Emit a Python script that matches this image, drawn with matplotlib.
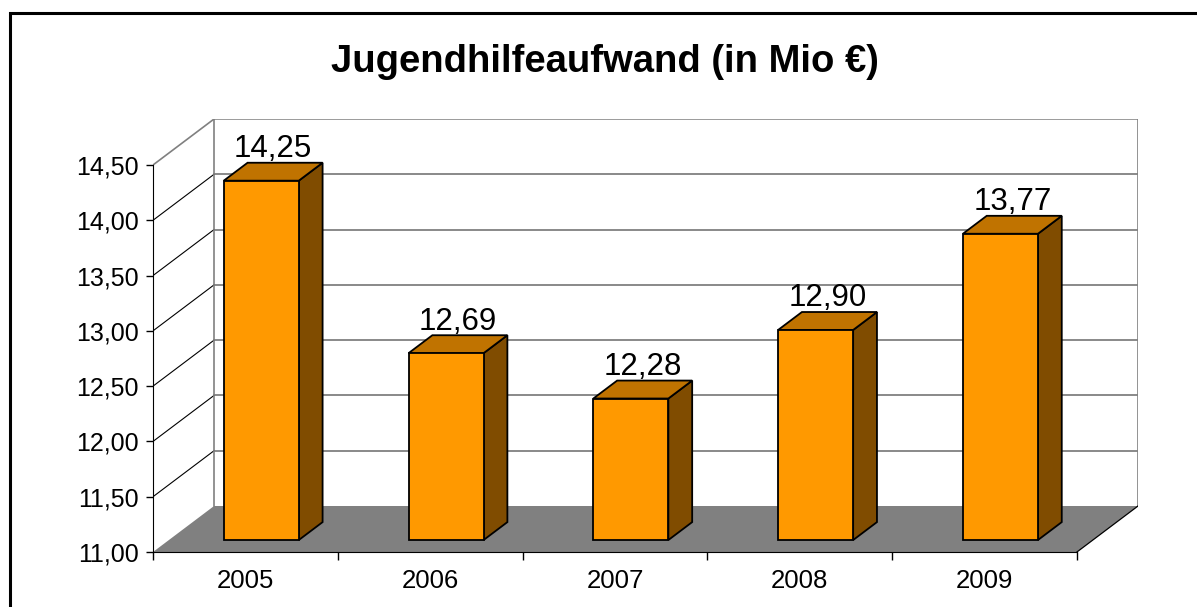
import matplotlib
matplotlib.use("Agg")
import matplotlib.pyplot as plt
from matplotlib.patches import Polygon, Rectangle
import numpy as np

plt.rcParams['font.family'] = ['Liberation Sans', 'DejaVu Sans']

# ---- data ----
years = ["2005", "2006", "2007", "2008", "2009"]
values = [14.25, 12.69, 12.28, 12.90, 13.77]
yticks = [11.0, 11.5, 12.0, 12.5, 13.0, 13.5, 14.0, 14.5]
title = "Jugendhilfeaufwand (in Mio €)"

# ---- 3D-look geometry (in data units) ----
YMIN, YMAX = 11.0, 14.5
DX, DY = 0.3304, 0.416        # depth offset of back wall
F0, F1 = 0.26, 0.65           # bar front / back depth fractions
HW = 0.203                    # half bar width

C_FRONT, C_TOP, C_SIDE = '#FF9900', '#C07300', '#804C00'
C_FLOOR, C_WALL = '#808080', '#808080'

fig = plt.figure(figsize=(11.97, 6.07), dpi=100)
ax = fig.add_axes([153/1197, 55/607, 985/1197, 433/607])
n = len(years)
ax.set_xlim(0, n + DX)
ax.set_ylim(YMIN, YMAX + DY)

# back wall gridlines and side-wall diagonals
for t in yticks:
    if t > YMIN:
        ax.plot([DX, n + DX], [t + DY, t + DY], color='#6a6a6a' if t < YMAX else C_WALL,
                lw=1.1, zorder=1)
        ax.plot([0, DX], [t, t + DY], color='black' if t < YMAX else C_WALL,
                lw=0.8 if t < YMAX else 1.2, zorder=1)
ax.plot([DX, DX], [YMIN + DY, YMAX + DY], color=C_WALL, lw=1.2, zorder=1)
ax.plot([n + DX, n + DX], [YMIN + DY, YMAX + DY], color=C_WALL, lw=1.2, zorder=1)

# floor
floor = Polygon([(0, YMIN), (n, YMIN), (n + DX, YMIN + DY), (DX, YMIN + DY)],
                closed=True, facecolor=C_FLOOR, edgecolor='none', zorder=2)
ax.add_patch(floor)
ax.plot([n, n + DX], [YMIN, YMIN + DY], color='black', lw=0.9, zorder=2)

# bars
x = np.arange(n) + 0.5
for xi, v in zip(x, values):
    xl0, xr0 = xi - HW + F0 * DX, xi + HW + F0 * DX
    xl1, xr1 = xi - HW + F1 * DX, xi + HW + F1 * DX
    y0b, y1b = YMIN + F0 * DY, YMIN + F1 * DY
    y0t, y1t = v + F0 * DY, v + F1 * DY
    ax.add_patch(Polygon([(xr0, y0b), (xr0, y0t), (xr1, y1t), (xr1, y1b)], closed=True,
                         facecolor=C_SIDE, edgecolor='black', lw=1.3, zorder=3, joinstyle='miter'))
    ax.add_patch(Polygon([(xl0, y0t), (xr0, y0t), (xr1, y1t), (xl1, y1t)], closed=True,
                         facecolor=C_TOP, edgecolor='black', lw=1.3, zorder=3, joinstyle='miter'))
ax.bar(x + F0 * DX, [v - YMIN for v in values], width=2 * HW, bottom=YMIN + F0 * DY,
       color=C_FRONT, edgecolor='black', linewidth=1.3, zorder=4)

for xi, v in zip(x, values):
    ax.annotate(f"{v:.2f}".replace('.', ','), xy=(xi + (F0 + F1) / 2 * DX, v + F1 * DY),
                xytext=(0, 4), textcoords='offset points', ha='center', va='baseline',
                fontsize=22.5, color='black', zorder=5, annotation_clip=False)

# axes styling
for s in ['top', 'right']:
    ax.spines[s].set_visible(False)
ax.spines['left'].set_bounds(YMIN, YMAX)
ax.spines['bottom'].set_bounds(0, n)
ax.spines['left'].set_color('black')
ax.spines['bottom'].set_color('black')
ax.spines['left'].set_zorder(6)
ax.spines['bottom'].set_zorder(6)
ax.set_facecolor('none')

ax.set_yticks(yticks)
ax.set_yticklabels([f"{t:.2f}".replace('.', ',') for t in yticks], fontsize=18)
ax.tick_params(axis='y', length=5, width=1, pad=5)

ax.set_xticks(np.arange(n + 1))
ax.set_xticklabels([])
ax.set_xticks(x, minor=True)
ax.set_xticklabels(years, minor=True, fontsize=18.5)
ax.tick_params(axis='x', which='major', length=5.5, width=1)
ax.tick_params(axis='x', which='minor', length=0, pad=12)

fig.text(605/1197, 1 - 62/607, title, ha='center', va='center',
         fontsize=27.5, fontweight='bold')

# chart area border
fig.add_artist(Rectangle((10/1197, -0.1), 2, (607 - 13)/607 + 0.1, transform=fig.transFigure,
                         fill=False, edgecolor='black', lw=2.2, clip_on=False))

fig.savefig('out.png', dpi=100)
